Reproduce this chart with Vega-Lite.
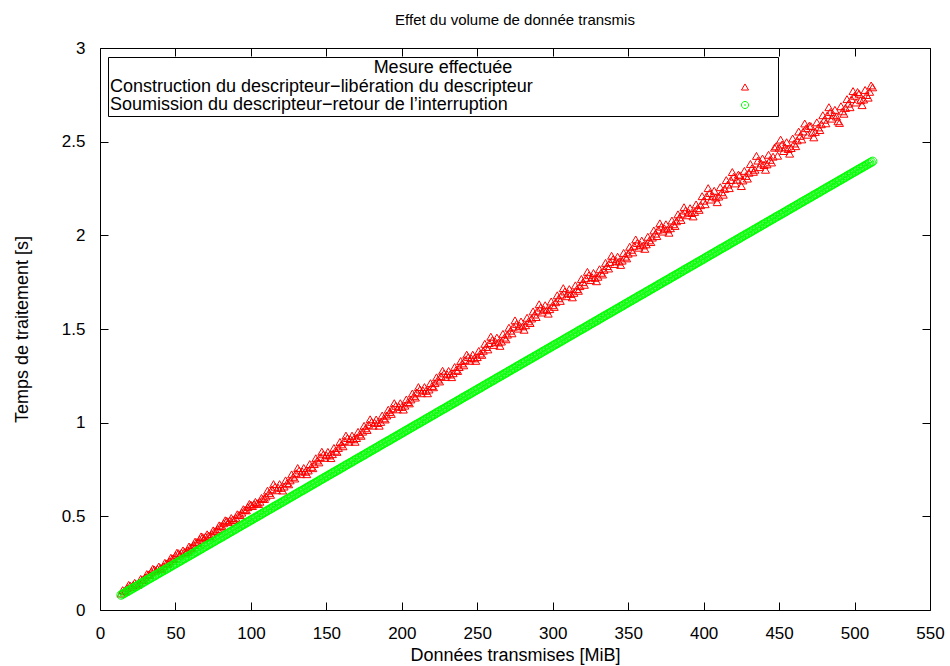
{
  "$schema": "https://vega.github.io/schema/vega-lite/v6.json",
  "width": 830,
  "height": 562,
  "autosize": "none",
  "padding": {"left": 100, "top": 48, "right": 20, "bottom": 56},
  "background": "white",
  "title": {"text": "Effet du volume de donnée transmis", "fontSize": 15, "fontWeight": "normal", "color": "#000", "frame": "group", "anchor": "middle", "offset": 11},
  "config": {
    "font": "Liberation Sans",
    "view": {"stroke": "#000", "strokeWidth": 1},
    "axis": {"grid": false, "domain": false, "tickColor": "#000", "tickSize": -8, "tickWidth": 1, "labelColor": "#000", "titleColor": "#000", "labelFontSize": 17, "titleFontSize": 18, "titleFontWeight": "normal", "labelPadding": 23, "labelFlush": false}
  },
  "datasets": {
    "construction": [
      {"d":14,"t":0.088},{"d":16,"t":0.102},{"d":18,"t":0.117},{"d":20,"t":0.130},{"d":22,"t":0.133},{"d":24,"t":0.138},{"d":26,"t":0.146},{"d":28,"t":0.161},
      {"d":30,"t":0.174},{"d":32,"t":0.189},{"d":34,"t":0.204},{"d":36,"t":0.216},{"d":38,"t":0.219},{"d":40,"t":0.224},{"d":42,"t":0.233},{"d":44,"t":0.248},
      {"d":46,"t":0.260},{"d":48,"t":0.275},{"d":50,"t":0.290},{"d":52,"t":0.303},{"d":54,"t":0.306},{"d":56,"t":0.310},{"d":58,"t":0.319},{"d":60,"t":0.334},
      {"d":62,"t":0.347},{"d":64,"t":0.362},{"d":66,"t":0.376},{"d":68,"t":0.389},{"d":70,"t":0.392},{"d":72,"t":0.397},{"d":74,"t":0.406},{"d":76,"t":0.420},
      {"d":78,"t":0.433},{"d":80,"t":0.448},{"d":82,"t":0.463},{"d":84,"t":0.476},{"d":86,"t":0.478},{"d":88,"t":0.483},{"d":90,"t":0.492},{"d":92,"t":0.507},
      {"d":94,"t":0.520},{"d":96,"t":0.534},{"d":98,"t":0.549},{"d":100,"t":0.562},{"d":102,"t":0.565},{"d":104,"t":0.570},{"d":106,"t":0.578},{"d":108,"t":0.593},
      {"d":110,"t":0.606},{"d":112,"t":0.625},{"d":114,"t":0.644},{"d":116,"t":0.658},{"d":118,"t":0.653},{"d":120,"t":0.652},{"d":122,"t":0.659},{"d":124,"t":0.678},
      {"d":126,"t":0.692},{"d":128,"t":0.711},{"d":130,"t":0.730},{"d":132,"t":0.745},{"d":134,"t":0.740},{"d":136,"t":0.738},{"d":138,"t":0.745},{"d":140,"t":0.764},
      {"d":142,"t":0.779},{"d":144,"t":0.798},{"d":146,"t":0.816},{"d":148,"t":0.831},{"d":150,"t":0.826},{"d":152,"t":0.825},{"d":154,"t":0.832},{"d":156,"t":0.850},
      {"d":158,"t":0.865},{"d":160,"t":0.884},{"d":162,"t":0.903},{"d":164,"t":0.918},{"d":166,"t":0.912},{"d":168,"t":0.911},{"d":170,"t":0.918},{"d":172,"t":0.937},
      {"d":174,"t":0.952},{"d":176,"t":0.970},{"d":178,"t":0.989},{"d":180,"t":1.004},{"d":182,"t":0.999},{"d":184,"t":0.998},{"d":186,"t":1.004},{"d":188,"t":1.023},
      {"d":190,"t":1.038},{"d":192,"t":1.057},{"d":194,"t":1.076},{"d":196,"t":1.090},{"d":198,"t":1.085},{"d":200,"t":1.084},{"d":202,"t":1.091},{"d":204,"t":1.110},
      {"d":206,"t":1.124},{"d":208,"t":1.143},{"d":210,"t":1.162},{"d":212,"t":1.177},{"d":214,"t":1.172},{"d":216,"t":1.170},{"d":218,"t":1.177},{"d":220,"t":1.196},
      {"d":222,"t":1.211},{"d":224,"t":1.230},{"d":226,"t":1.248},{"d":228,"t":1.263},{"d":230,"t":1.258},{"d":232,"t":1.257},{"d":234,"t":1.264},{"d":236,"t":1.282},
      {"d":238,"t":1.297},{"d":240,"t":1.316},{"d":242,"t":1.335},{"d":244,"t":1.350},{"d":246,"t":1.344},{"d":248,"t":1.343},{"d":250,"t":1.350},{"d":252,"t":1.369},
      {"d":254,"t":1.384},{"d":256,"t":1.404},{"d":258,"t":1.425},{"d":260,"t":1.441},{"d":262,"t":1.432},{"d":264,"t":1.428},{"d":266,"t":1.433},{"d":268,"t":1.454},
      {"d":270,"t":1.470},{"d":272,"t":1.491},{"d":274,"t":1.512},{"d":276,"t":1.527},{"d":278,"t":1.518},{"d":280,"t":1.514},{"d":282,"t":1.520},{"d":284,"t":1.541},
      {"d":286,"t":1.556},{"d":288,"t":1.577},{"d":290,"t":1.598},{"d":292,"t":1.614},{"d":294,"t":1.605},{"d":296,"t":1.600},{"d":298,"t":1.606},{"d":300,"t":1.627},
      {"d":302,"t":1.643},{"d":304,"t":1.664},{"d":306,"t":1.684},{"d":308,"t":1.700},{"d":310,"t":1.691},{"d":312,"t":1.687},{"d":314,"t":1.693},{"d":316,"t":1.713},
      {"d":318,"t":1.729},{"d":320,"t":1.750},{"d":322,"t":1.771},{"d":324,"t":1.787},{"d":326,"t":1.777},{"d":328,"t":1.773},{"d":330,"t":1.779},{"d":332,"t":1.800},
      {"d":334,"t":1.816},{"d":336,"t":1.836},{"d":338,"t":1.857},{"d":340,"t":1.873},{"d":342,"t":1.864},{"d":344,"t":1.860},{"d":346,"t":1.865},{"d":348,"t":1.886},
      {"d":350,"t":1.902},{"d":352,"t":1.923},{"d":354,"t":1.944},{"d":356,"t":1.959},{"d":358,"t":1.950},{"d":360,"t":1.946},{"d":362,"t":1.952},{"d":364,"t":1.973},
      {"d":366,"t":1.988},{"d":368,"t":2.009},{"d":370,"t":2.030},{"d":372,"t":2.046},{"d":374,"t":2.037},{"d":376,"t":2.032},{"d":378,"t":2.038},{"d":380,"t":2.059},
      {"d":382,"t":2.075},{"d":384,"t":2.096},{"d":386,"t":2.116},{"d":388,"t":2.132},{"d":390,"t":2.123},{"d":392,"t":2.119},{"d":394,"t":2.125},{"d":396,"t":2.145},
      {"d":398,"t":2.161},{"d":400,"t":2.185},{"d":402,"t":2.209},{"d":404,"t":2.226},{"d":406,"t":2.211},{"d":408,"t":2.202},{"d":410,"t":2.207},{"d":412,"t":2.230},
      {"d":414,"t":2.248},{"d":416,"t":2.271},{"d":418,"t":2.295},{"d":420,"t":2.313},{"d":422,"t":2.297},{"d":424,"t":2.320},{"d":426,"t":2.293},{"d":428,"t":2.317},
      {"d":430,"t":2.334},{"d":432,"t":2.358},{"d":434,"t":2.350},{"d":436,"t":2.399},{"d":438,"t":2.384},{"d":440,"t":2.375},{"d":442,"t":2.379},{"d":444,"t":2.403},
      {"d":446,"t":2.420},{"d":448,"t":2.475},{"d":450,"t":2.468},{"d":452,"t":2.485},{"d":454,"t":2.470},{"d":456,"t":2.461},{"d":458,"t":2.466},{"d":460,"t":2.490},
      {"d":462,"t":2.507},{"d":464,"t":2.531},{"d":466,"t":2.554},{"d":468,"t":2.572},{"d":470,"t":2.585},{"d":472,"t":2.548},{"d":474,"t":2.552},{"d":476,"t":2.576},
      {"d":478,"t":2.593},{"d":480,"t":2.617},{"d":482,"t":2.641},{"d":484,"t":2.658},{"d":486,"t":2.643},{"d":488,"t":2.634},{"d":490,"t":2.600},{"d":492,"t":2.662},
      {"d":494,"t":2.680},{"d":496,"t":2.703},{"d":498,"t":2.727},{"d":500,"t":2.745},{"d":502,"t":2.765},{"d":504,"t":2.721},{"d":506,"t":2.725},{"d":508,"t":2.749},
      {"d":510,"t":2.766},{"d":512,"t":2.790},
      {"d":15,"t":0.106},{"d":17,"t":0.100},{"d":19,"t":0.134},{"d":21,"t":0.123},{"d":23,"t":0.145},{"d":25,"t":0.134},{"d":27,"t":0.166},{"d":29,"t":0.161},
      {"d":31,"t":0.192},{"d":33,"t":0.186},{"d":35,"t":0.220},{"d":37,"t":0.210},{"d":39,"t":0.232},{"d":41,"t":0.220},{"d":43,"t":0.252},{"d":45,"t":0.247},
      {"d":47,"t":0.279},{"d":49,"t":0.273},{"d":51,"t":0.306},{"d":53,"t":0.296},{"d":55,"t":0.318},{"d":57,"t":0.307},{"d":59,"t":0.339},{"d":61,"t":0.333},
      {"d":63,"t":0.365},{"d":65,"t":0.359},{"d":67,"t":0.393},{"d":69,"t":0.383},{"d":71,"t":0.404},{"d":73,"t":0.393},{"d":75,"t":0.425},{"d":77,"t":0.420},
      {"d":79,"t":0.452},{"d":81,"t":0.445},{"d":83,"t":0.479},{"d":85,"t":0.469},{"d":87,"t":0.491},{"d":89,"t":0.480},{"d":91,"t":0.511},{"d":93,"t":0.506},
      {"d":95,"t":0.538},{"d":97,"t":0.532},{"d":99,"t":0.566},{"d":101,"t":0.555},{"d":103,"t":0.577},{"d":105,"t":0.566},{"d":107,"t":0.598},{"d":109,"t":0.593},
      {"d":111,"t":0.637},{"d":113,"t":0.615},{"d":115,"t":0.672},{"d":117,"t":0.639},{"d":119,"t":0.672},{"d":121,"t":0.638},{"d":123,"t":0.692},{"d":125,"t":0.671},
      {"d":127,"t":0.724},{"d":129,"t":0.702},{"d":131,"t":0.758},{"d":133,"t":0.725},{"d":135,"t":0.758},{"d":137,"t":0.725},{"d":139,"t":0.779},{"d":141,"t":0.757},
      {"d":143,"t":0.810},{"d":145,"t":0.788},{"d":147,"t":0.845},{"d":149,"t":0.812},{"d":151,"t":0.844},{"d":153,"t":0.811},{"d":155,"t":0.865},{"d":157,"t":0.844},
      {"d":159,"t":0.897},{"d":161,"t":0.874},{"d":163,"t":0.931},{"d":165,"t":0.898},{"d":167,"t":0.931},{"d":169,"t":0.898},{"d":171,"t":0.951},{"d":173,"t":0.930},
      {"d":175,"t":0.983},{"d":177,"t":0.961},{"d":179,"t":1.018},{"d":181,"t":0.984},{"d":183,"t":1.017},{"d":185,"t":0.984},{"d":187,"t":1.038},{"d":189,"t":1.017},
      {"d":191,"t":1.069},{"d":193,"t":1.047},{"d":195,"t":1.104},{"d":197,"t":1.071},{"d":199,"t":1.104},{"d":201,"t":1.070},{"d":203,"t":1.124},{"d":205,"t":1.103},
      {"d":207,"t":1.156},{"d":209,"t":1.134},{"d":211,"t":1.190},{"d":213,"t":1.157},{"d":215,"t":1.190},{"d":217,"t":1.157},{"d":219,"t":1.211},{"d":221,"t":1.189},
      {"d":223,"t":1.242},{"d":225,"t":1.220},{"d":227,"t":1.277},{"d":229,"t":1.244},{"d":231,"t":1.276},{"d":233,"t":1.243},{"d":235,"t":1.297},{"d":237,"t":1.276},
      {"d":239,"t":1.329},{"d":241,"t":1.306},{"d":243,"t":1.363},{"d":245,"t":1.330},{"d":247,"t":1.363},{"d":249,"t":1.330},{"d":251,"t":1.383},{"d":253,"t":1.362},
      {"d":255,"t":1.421},{"d":257,"t":1.391},{"d":259,"t":1.459},{"d":261,"t":1.415},{"d":263,"t":1.454},{"d":265,"t":1.410},{"d":267,"t":1.474},{"d":269,"t":1.445},
      {"d":271,"t":1.507},{"d":273,"t":1.477},{"d":275,"t":1.546},{"d":277,"t":1.502},{"d":279,"t":1.540},{"d":281,"t":1.496},{"d":283,"t":1.560},{"d":285,"t":1.532},
      {"d":287,"t":1.594},{"d":289,"t":1.564},{"d":291,"t":1.632},{"d":293,"t":1.588},{"d":295,"t":1.627},{"d":297,"t":1.582},{"d":299,"t":1.647},{"d":301,"t":1.618},
      {"d":303,"t":1.680},{"d":305,"t":1.650},{"d":307,"t":1.718},{"d":309,"t":1.675},{"d":311,"t":1.713},{"d":313,"t":1.669},{"d":315,"t":1.733},{"d":317,"t":1.704},
      {"d":319,"t":1.767},{"d":321,"t":1.736},{"d":323,"t":1.805},{"d":325,"t":1.761},{"d":327,"t":1.799},{"d":329,"t":1.755},{"d":331,"t":1.819},{"d":333,"t":1.791},
      {"d":335,"t":1.853},{"d":337,"t":1.823},{"d":339,"t":1.891},{"d":341,"t":1.847},{"d":343,"t":1.886},{"d":345,"t":1.842},{"d":347,"t":1.906},{"d":349,"t":1.877},
      {"d":351,"t":1.939},{"d":353,"t":1.909},{"d":355,"t":1.978},{"d":357,"t":1.934},{"d":359,"t":1.972},{"d":361,"t":1.928},{"d":363,"t":1.992},{"d":365,"t":1.964},
      {"d":367,"t":2.026},{"d":369,"t":1.996},{"d":371,"t":2.064},{"d":373,"t":2.020},{"d":375,"t":2.059},{"d":377,"t":2.014},{"d":379,"t":2.079},{"d":381,"t":2.050},
      {"d":383,"t":2.112},{"d":385,"t":2.082},{"d":387,"t":2.150},{"d":389,"t":2.107},{"d":391,"t":2.145},{"d":393,"t":2.101},{"d":395,"t":2.165},{"d":397,"t":2.136},
      {"d":399,"t":2.209},{"d":401,"t":2.166},{"d":403,"t":2.252},{"d":405,"t":2.191},{"d":407,"t":2.238},{"d":409,"t":2.177},{"d":411,"t":2.257},{"d":413,"t":2.217},
      {"d":415,"t":2.295},{"d":417,"t":2.252},{"d":419,"t":2.338},{"d":421,"t":2.277},{"d":423,"t":2.324},{"d":425,"t":2.263},{"d":427,"t":2.344},{"d":429,"t":2.303},
      {"d":431,"t":2.381},{"d":433,"t":2.339},{"d":435,"t":2.424},{"d":437,"t":2.364},{"d":439,"t":2.410},{"d":441,"t":2.350},{"d":443,"t":2.430},{"d":445,"t":2.389},
      {"d":447,"t":2.468},{"d":449,"t":2.425},{"d":451,"t":2.511},{"d":453,"t":2.450},{"d":455,"t":2.497},{"d":457,"t":2.436},{"d":459,"t":2.517},{"d":461,"t":2.476},
      {"d":463,"t":2.554},{"d":465,"t":2.512},{"d":467,"t":2.597},{"d":469,"t":2.537},{"d":471,"t":2.583},{"d":473,"t":2.523},{"d":475,"t":2.603},{"d":477,"t":2.562},
      {"d":479,"t":2.641},{"d":481,"t":2.598},{"d":483,"t":2.684},{"d":485,"t":2.623},{"d":487,"t":2.670},{"d":489,"t":2.609},{"d":491,"t":2.689},{"d":493,"t":2.649},
      {"d":495,"t":2.727},{"d":497,"t":2.684},{"d":499,"t":2.770},{"d":501,"t":2.709},{"d":503,"t":2.756},{"d":505,"t":2.695},{"d":507,"t":2.776},{"d":509,"t":2.735},
      {"d":511,"t":2.800}
    ],
    "soumission": [
      {"d":14,"t":0.080},{"d":16,"t":0.089},{"d":18,"t":0.099},{"d":20,"t":0.108},{"d":22,"t":0.117},{"d":24,"t":0.126},{"d":26,"t":0.136},{"d":28,"t":0.145},{"d":30,"t":0.154},{"d":32,"t":0.164},
      {"d":34,"t":0.173},{"d":36,"t":0.182},{"d":38,"t":0.192},{"d":40,"t":0.201},{"d":42,"t":0.210},{"d":44,"t":0.219},{"d":46,"t":0.229},{"d":48,"t":0.238},{"d":50,"t":0.247},{"d":52,"t":0.257},
      {"d":54,"t":0.266},{"d":56,"t":0.275},{"d":58,"t":0.285},{"d":60,"t":0.294},{"d":62,"t":0.303},{"d":64,"t":0.312},{"d":66,"t":0.322},{"d":68,"t":0.331},{"d":70,"t":0.340},{"d":72,"t":0.350},
      {"d":74,"t":0.359},{"d":76,"t":0.368},{"d":78,"t":0.378},{"d":80,"t":0.387},{"d":82,"t":0.396},{"d":84,"t":0.405},{"d":86,"t":0.415},{"d":88,"t":0.424},{"d":90,"t":0.433},{"d":92,"t":0.443},
      {"d":94,"t":0.452},{"d":96,"t":0.461},{"d":98,"t":0.471},{"d":100,"t":0.480},{"d":102,"t":0.489},{"d":104,"t":0.498},{"d":106,"t":0.508},{"d":108,"t":0.517},{"d":110,"t":0.526},{"d":112,"t":0.536},
      {"d":114,"t":0.545},{"d":116,"t":0.554},{"d":118,"t":0.563},{"d":120,"t":0.573},{"d":122,"t":0.582},{"d":124,"t":0.591},{"d":126,"t":0.601},{"d":128,"t":0.610},{"d":130,"t":0.619},{"d":132,"t":0.629},
      {"d":134,"t":0.638},{"d":136,"t":0.647},{"d":138,"t":0.656},{"d":140,"t":0.666},{"d":142,"t":0.675},{"d":144,"t":0.684},{"d":146,"t":0.694},{"d":148,"t":0.703},{"d":150,"t":0.712},{"d":152,"t":0.722},
      {"d":154,"t":0.731},{"d":156,"t":0.740},{"d":158,"t":0.749},{"d":160,"t":0.759},{"d":162,"t":0.768},{"d":164,"t":0.777},{"d":166,"t":0.787},{"d":168,"t":0.796},{"d":170,"t":0.805},{"d":172,"t":0.814},
      {"d":174,"t":0.824},{"d":176,"t":0.833},{"d":178,"t":0.842},{"d":180,"t":0.852},{"d":182,"t":0.861},{"d":184,"t":0.870},{"d":186,"t":0.880},{"d":188,"t":0.889},{"d":190,"t":0.898},{"d":192,"t":0.907},
      {"d":194,"t":0.917},{"d":196,"t":0.926},{"d":198,"t":0.935},{"d":200,"t":0.945},{"d":202,"t":0.954},{"d":204,"t":0.963},{"d":206,"t":0.973},{"d":208,"t":0.982},{"d":210,"t":0.991},{"d":212,"t":1.000},
      {"d":214,"t":1.010},{"d":216,"t":1.019},{"d":218,"t":1.028},{"d":220,"t":1.038},{"d":222,"t":1.047},{"d":224,"t":1.056},{"d":226,"t":1.066},{"d":228,"t":1.075},{"d":230,"t":1.084},{"d":232,"t":1.093},
      {"d":234,"t":1.103},{"d":236,"t":1.112},{"d":238,"t":1.121},{"d":240,"t":1.131},{"d":242,"t":1.140},{"d":244,"t":1.149},{"d":246,"t":1.158},{"d":248,"t":1.168},{"d":250,"t":1.177},{"d":252,"t":1.186},
      {"d":254,"t":1.196},{"d":256,"t":1.205},{"d":258,"t":1.214},{"d":260,"t":1.224},{"d":262,"t":1.233},{"d":264,"t":1.242},{"d":266,"t":1.251},{"d":268,"t":1.261},{"d":270,"t":1.270},{"d":272,"t":1.279},
      {"d":274,"t":1.289},{"d":276,"t":1.298},{"d":278,"t":1.307},{"d":280,"t":1.317},{"d":282,"t":1.326},{"d":284,"t":1.335},{"d":286,"t":1.344},{"d":288,"t":1.354},{"d":290,"t":1.363},{"d":292,"t":1.372},
      {"d":294,"t":1.382},{"d":296,"t":1.391},{"d":298,"t":1.400},{"d":300,"t":1.410},{"d":302,"t":1.419},{"d":304,"t":1.428},{"d":306,"t":1.437},{"d":308,"t":1.447},{"d":310,"t":1.456},{"d":312,"t":1.465},
      {"d":314,"t":1.475},{"d":316,"t":1.484},{"d":318,"t":1.493},{"d":320,"t":1.502},{"d":322,"t":1.512},{"d":324,"t":1.521},{"d":326,"t":1.530},{"d":328,"t":1.540},{"d":330,"t":1.549},{"d":332,"t":1.558},
      {"d":334,"t":1.568},{"d":336,"t":1.577},{"d":338,"t":1.586},{"d":340,"t":1.595},{"d":342,"t":1.605},{"d":344,"t":1.614},{"d":346,"t":1.623},{"d":348,"t":1.633},{"d":350,"t":1.642},{"d":352,"t":1.651},
      {"d":354,"t":1.661},{"d":356,"t":1.670},{"d":358,"t":1.679},{"d":360,"t":1.688},{"d":362,"t":1.698},{"d":364,"t":1.707},{"d":366,"t":1.716},{"d":368,"t":1.726},{"d":370,"t":1.735},{"d":372,"t":1.744},
      {"d":374,"t":1.754},{"d":376,"t":1.763},{"d":378,"t":1.772},{"d":380,"t":1.781},{"d":382,"t":1.791},{"d":384,"t":1.800},{"d":386,"t":1.809},{"d":388,"t":1.819},{"d":390,"t":1.828},{"d":392,"t":1.837},
      {"d":394,"t":1.846},{"d":396,"t":1.856},{"d":398,"t":1.865},{"d":400,"t":1.874},{"d":402,"t":1.884},{"d":404,"t":1.893},{"d":406,"t":1.902},{"d":408,"t":1.912},{"d":410,"t":1.921},{"d":412,"t":1.930},
      {"d":414,"t":1.939},{"d":416,"t":1.949},{"d":418,"t":1.958},{"d":420,"t":1.967},{"d":422,"t":1.977},{"d":424,"t":1.986},{"d":426,"t":1.995},{"d":428,"t":2.005},{"d":430,"t":2.014},{"d":432,"t":2.023},
      {"d":434,"t":2.032},{"d":436,"t":2.042},{"d":438,"t":2.051},{"d":440,"t":2.060},{"d":442,"t":2.070},{"d":444,"t":2.079},{"d":446,"t":2.088},{"d":448,"t":2.098},{"d":450,"t":2.107},{"d":452,"t":2.116},
      {"d":454,"t":2.125},{"d":456,"t":2.135},{"d":458,"t":2.144},{"d":460,"t":2.153},{"d":462,"t":2.163},{"d":464,"t":2.172},{"d":466,"t":2.181},{"d":468,"t":2.191},{"d":470,"t":2.200},{"d":472,"t":2.209},
      {"d":474,"t":2.218},{"d":476,"t":2.228},{"d":478,"t":2.237},{"d":480,"t":2.246},{"d":482,"t":2.256},{"d":484,"t":2.265},{"d":486,"t":2.274},{"d":488,"t":2.283},{"d":490,"t":2.293},{"d":492,"t":2.302},
      {"d":494,"t":2.311},{"d":496,"t":2.321},{"d":498,"t":2.330},{"d":500,"t":2.339},{"d":502,"t":2.349},{"d":504,"t":2.358},{"d":506,"t":2.367},{"d":508,"t":2.376},{"d":510,"t":2.386},{"d":512,"t":2.395},
      {"d":15,"t":0.085},{"d":17,"t":0.094},{"d":19,"t":0.103},{"d":21,"t":0.113},{"d":23,"t":0.122},{"d":25,"t":0.131},{"d":27,"t":0.140},{"d":29,"t":0.150},{"d":31,"t":0.159},{"d":33,"t":0.168},
      {"d":35,"t":0.178},{"d":37,"t":0.187},{"d":39,"t":0.196},{"d":41,"t":0.206},{"d":43,"t":0.215},{"d":45,"t":0.224},{"d":47,"t":0.233},{"d":49,"t":0.243},{"d":51,"t":0.252},{"d":53,"t":0.261},
      {"d":55,"t":0.271},{"d":57,"t":0.280},{"d":59,"t":0.289},{"d":61,"t":0.298},{"d":63,"t":0.308},{"d":65,"t":0.317},{"d":67,"t":0.326},{"d":69,"t":0.336},{"d":71,"t":0.345},{"d":73,"t":0.354},
      {"d":75,"t":0.364},{"d":77,"t":0.373},{"d":79,"t":0.382},{"d":81,"t":0.391},{"d":83,"t":0.401},{"d":85,"t":0.410},{"d":87,"t":0.419},{"d":89,"t":0.429},{"d":91,"t":0.438},{"d":93,"t":0.447},
      {"d":95,"t":0.457},{"d":97,"t":0.466},{"d":99,"t":0.475},{"d":101,"t":0.484},{"d":103,"t":0.494},{"d":105,"t":0.503},{"d":107,"t":0.512},{"d":109,"t":0.522},{"d":111,"t":0.531},{"d":113,"t":0.540},
      {"d":115,"t":0.550},{"d":117,"t":0.559},{"d":119,"t":0.568},{"d":121,"t":0.577},{"d":123,"t":0.587},{"d":125,"t":0.596},{"d":127,"t":0.605},{"d":129,"t":0.615},{"d":131,"t":0.624},{"d":133,"t":0.633},
      {"d":135,"t":0.642},{"d":137,"t":0.652},{"d":139,"t":0.661},{"d":141,"t":0.670},{"d":143,"t":0.680},{"d":145,"t":0.689},{"d":147,"t":0.698},{"d":149,"t":0.708},{"d":151,"t":0.717},{"d":153,"t":0.726},
      {"d":155,"t":0.735},{"d":157,"t":0.745},{"d":159,"t":0.754},{"d":161,"t":0.763},{"d":163,"t":0.773},{"d":165,"t":0.782},{"d":167,"t":0.791},{"d":169,"t":0.801},{"d":171,"t":0.810},{"d":173,"t":0.819},
      {"d":175,"t":0.828},{"d":177,"t":0.838},{"d":179,"t":0.847},{"d":181,"t":0.856},{"d":183,"t":0.866},{"d":185,"t":0.875},{"d":187,"t":0.884},{"d":189,"t":0.894},{"d":191,"t":0.903},{"d":193,"t":0.912},
      {"d":195,"t":0.921},{"d":197,"t":0.931},{"d":199,"t":0.940},{"d":201,"t":0.949},{"d":203,"t":0.959},{"d":205,"t":0.968},{"d":207,"t":0.977},{"d":209,"t":0.987},{"d":211,"t":0.996},{"d":213,"t":1.005},
      {"d":215,"t":1.014},{"d":217,"t":1.024},{"d":219,"t":1.033},{"d":221,"t":1.042},{"d":223,"t":1.052},{"d":225,"t":1.061},{"d":227,"t":1.070},{"d":229,"t":1.079},{"d":231,"t":1.089},{"d":233,"t":1.098},
      {"d":235,"t":1.107},{"d":237,"t":1.117},{"d":239,"t":1.126},{"d":241,"t":1.135},{"d":243,"t":1.145},{"d":245,"t":1.154},{"d":247,"t":1.163},{"d":249,"t":1.172},{"d":251,"t":1.182},{"d":253,"t":1.191},
      {"d":255,"t":1.200},{"d":257,"t":1.210},{"d":259,"t":1.219},{"d":261,"t":1.228},{"d":263,"t":1.238},{"d":265,"t":1.247},{"d":267,"t":1.256},{"d":269,"t":1.265},{"d":271,"t":1.275},{"d":273,"t":1.284},
      {"d":275,"t":1.293},{"d":277,"t":1.303},{"d":279,"t":1.312},{"d":281,"t":1.321},{"d":283,"t":1.331},{"d":285,"t":1.340},{"d":287,"t":1.349},{"d":289,"t":1.358},{"d":291,"t":1.368},{"d":293,"t":1.377},
      {"d":295,"t":1.386},{"d":297,"t":1.396},{"d":299,"t":1.405},{"d":301,"t":1.414},{"d":303,"t":1.423},{"d":305,"t":1.433},{"d":307,"t":1.442},{"d":309,"t":1.451},{"d":311,"t":1.461},{"d":313,"t":1.470},
      {"d":315,"t":1.479},{"d":317,"t":1.489},{"d":319,"t":1.498},{"d":321,"t":1.507},{"d":323,"t":1.516},{"d":325,"t":1.526},{"d":327,"t":1.535},{"d":329,"t":1.544},{"d":331,"t":1.554},{"d":333,"t":1.563},
      {"d":335,"t":1.572},{"d":337,"t":1.582},{"d":339,"t":1.591},{"d":341,"t":1.600},{"d":343,"t":1.609},{"d":345,"t":1.619},{"d":347,"t":1.628},{"d":349,"t":1.637},{"d":351,"t":1.647},{"d":353,"t":1.656},
      {"d":355,"t":1.665},{"d":357,"t":1.675},{"d":359,"t":1.684},{"d":361,"t":1.693},{"d":363,"t":1.702},{"d":365,"t":1.712},{"d":367,"t":1.721},{"d":369,"t":1.730},{"d":371,"t":1.740},{"d":373,"t":1.749},
      {"d":375,"t":1.758},{"d":377,"t":1.767},{"d":379,"t":1.777},{"d":381,"t":1.786},{"d":383,"t":1.795},{"d":385,"t":1.805},{"d":387,"t":1.814},{"d":389,"t":1.823},{"d":391,"t":1.833},{"d":393,"t":1.842},
      {"d":395,"t":1.851},{"d":397,"t":1.860},{"d":399,"t":1.870},{"d":401,"t":1.879},{"d":403,"t":1.888},{"d":405,"t":1.898},{"d":407,"t":1.907},{"d":409,"t":1.916},{"d":411,"t":1.926},{"d":413,"t":1.935},
      {"d":415,"t":1.944},{"d":417,"t":1.953},{"d":419,"t":1.963},{"d":421,"t":1.972},{"d":423,"t":1.981},{"d":425,"t":1.991},{"d":427,"t":2.000},{"d":429,"t":2.009},{"d":431,"t":2.018},{"d":433,"t":2.028},
      {"d":435,"t":2.037},{"d":437,"t":2.046},{"d":439,"t":2.056},{"d":441,"t":2.065},{"d":443,"t":2.074},{"d":445,"t":2.084},{"d":447,"t":2.093},{"d":449,"t":2.102},{"d":451,"t":2.111},{"d":453,"t":2.121},
      {"d":455,"t":2.130},{"d":457,"t":2.139},{"d":459,"t":2.149},{"d":461,"t":2.158},{"d":463,"t":2.167},{"d":465,"t":2.177},{"d":467,"t":2.186},{"d":469,"t":2.195},{"d":471,"t":2.204},{"d":473,"t":2.214},
      {"d":475,"t":2.223},{"d":477,"t":2.232},{"d":479,"t":2.242},{"d":481,"t":2.251},{"d":483,"t":2.260},{"d":485,"t":2.270},{"d":487,"t":2.279},{"d":489,"t":2.288},{"d":491,"t":2.297},{"d":493,"t":2.307},
      {"d":495,"t":2.316},{"d":497,"t":2.325},{"d":499,"t":2.335},{"d":501,"t":2.344},{"d":503,"t":2.353},{"d":505,"t":2.362},{"d":507,"t":2.372},{"d":509,"t":2.381},{"d":511,"t":2.390}
    ]
  },
  "layer": [
    {
      "data": {"name": "construction"},
      "mark": {"type": "point", "filled": false, "strokeWidth": 1, "size": 64, "opacity": 1},
      "encoding": {
        "x": {"field": "d", "type": "quantitative", "scale": {"domain": [0, 550], "nice": false, "zero": false},
              "axis": {"orient": "bottom", "values": [0, 50, 100, 150, 200, 250, 300, 350, 400, 450, 500, 550], "title": "Données transmises [MiB]", "titlePadding": 5}},
        "y": {"field": "t", "type": "quantitative", "scale": {"domain": [0, 3], "nice": false},
              "axis": {"orient": "left", "values": [0, 0.5, 1, 1.5, 2, 2.5, 3], "format": "~g", "title": "Temps de traitement [s]", "titlePadding": 30}},
        "color": {"datum": "Construction du descripteur−libération du descripteur", "type": "nominal",
                  "scale": {"domain": ["Construction du descripteur−libération du descripteur", "Soumission du descripteur−retour de l’interruption"], "range": ["#ff0000", "#00ff00"]},
                  "legend": {"title": "Mesure effectuée", "orient": "none", "legendX": 8, "legendY": 9, "direction": "vertical", "strokeColor": "#000", "fillColor": "#fff", "padding": 2, "titleAnchor": "middle", "titleFontSize": 18, "titleFontWeight": "normal", "titleColor": "#000", "titlePadding": 1, "labelFontSize": 18, "labelColor": "#000", "labelLimit": 0, "symbolSize": 50, "symbolStrokeWidth": 1, "symbolOffset": 626, "labelOffset": -644, "rowPadding": -1}},
        "shape": {"datum": "Construction du descripteur−libération du descripteur", "type": "nominal",
                  "scale": {"domain": ["Construction du descripteur−libération du descripteur", "Soumission du descripteur−retour de l’interruption"], "range": ["M0,-0.866L-1,0.866L1,0.866ZM8,0", "M-1,0A1,1,0,1,1,1,0A1,1,0,1,1,-1,0M-0.12,0A0.12,0.12,0,1,1,0.12,0A0.12,0.12,0,1,1,-0.12,0M8,0"]},
                  "legend": {"title": "Mesure effectuée", "orient": "none", "legendX": 8, "legendY": 9, "direction": "vertical", "strokeColor": "#000", "fillColor": "#fff", "padding": 2, "titleAnchor": "middle", "titleFontSize": 18, "titleFontWeight": "normal", "titleColor": "#000", "titlePadding": 1, "labelFontSize": 18, "labelColor": "#000", "labelLimit": 0, "symbolSize": 50, "symbolStrokeWidth": 1, "symbolOffset": 626, "labelOffset": -644, "rowPadding": -1}}
      }
    },
    {
      "data": {"name": "soumission"},
      "mark": {"type": "point", "filled": false, "strokeWidth": 1, "size": 72, "opacity": 1},
      "encoding": {
        "x": {"field": "d", "type": "quantitative",
              "axis": {"orient": "top", "values": [0, 50, 100, 150, 200, 250, 300, 350, 400, 450, 500, 550], "labels": false, "title": null}},
        "y": {"field": "t", "type": "quantitative",
              "axis": {"orient": "right", "values": [0, 0.5, 1, 1.5, 2, 2.5, 3], "labels": false, "title": null}},
        "color": {"datum": "Soumission du descripteur−retour de l’interruption", "type": "nominal"},
        "shape": {"datum": "Soumission du descripteur−retour de l’interruption", "type": "nominal"}
      }
    }
  ]
}
